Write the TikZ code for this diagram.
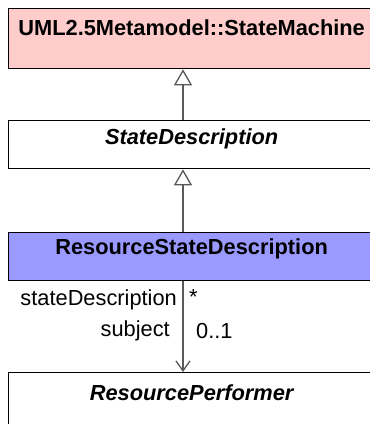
\documentclass[tikz,border=0pt]{standalone}
\usepackage{fontspec}
\setmainfont{Liberation Sans}
\usetikzlibrary{calc,positioning,arrows.meta}
\definecolor{smfill}{HTML}{FFCCCC}
\definecolor{rsdfill}{HTML}{9999FF}
\definecolor{linkgray}{HTML}{595959}
\begin{document}
\begin{tikzpicture}[x=1pt,y=1pt,
    cls/.style={draw=black,line width=1.3pt,minimum width=366pt,inner sep=0pt,anchor=north west},
    ttl/.style={font=\fontsize{21.8}{26}\selectfont\bfseries,inner sep=0pt},
    role/.style={font=\fontsize{21.8}{26}\selectfont,inner sep=0pt},
    gen/.style={draw=linkgray,line width=1.3pt,-{Triangle[open,length=16pt,width=18pt,fill=white]}},
    nav/.style={draw=linkgray,line width=1.3pt,-{Straight Barb[length=10pt,width=14pt]}}]
    % page of 370 x 424, boxes run out over the right and bottom edge
    \useasboundingbox (0,0) rectangle (370,-424);

    \coordinate (spine) at (183,0);

    % classes
    \node[cls,fill=smfill,minimum height=60pt] (sm) at (8,-8) {};
    \node[cls,fill=white,minimum height=48pt] (sd) at (8,-120) {};
    \node[cls,fill=rsdfill,minimum height=48pt] (rsd) at (8,-232) {};
    \node[cls,fill=white,minimum height=70pt] (rp) at (8,-372) {};

    \node[ttl] (smt) at ($(sm.north)+(0,-20)$) {UML2.5Metamodel::StateMachine};
    \node[ttl] (sdt) at ($(sd.north)+(0,-19)$) {\itshape StateDescription};
    \node[ttl] (rsdt) at ($(rsd.north)+(0,-17)$) {ResourceStateDescription};
    \node[ttl] (rpt) at ($(rp.north)+(0,-21)$) {\itshape ResourcePerformer};

    % generalizations
    \draw[gen] (sd.north -| spine) -- (sm.south -| spine);
    \draw[gen] (rsd.north -| spine) -- (sd.south -| spine);

    % association
    \draw[nav] (rsd.south -| spine) -- (rp.north -| spine);

    \node[role,anchor=east] (srcrole) at ($(rsd.south -| spine)+(-6,-19)$) {stateDescription};
    \node[role,anchor=west] (srcmult) at ($(rsd.south -| spine)+(6,-16)$) {*};
    \node[role,anchor=east] (dstrole) at ($(rsd.south -| spine)+(-13,-50)$) {subject};
    \node[role,anchor=west] (dstmult) at ($(rsd.south -| spine)+(13,-50)$) {0..1};
\end{tikzpicture}
\end{document}
